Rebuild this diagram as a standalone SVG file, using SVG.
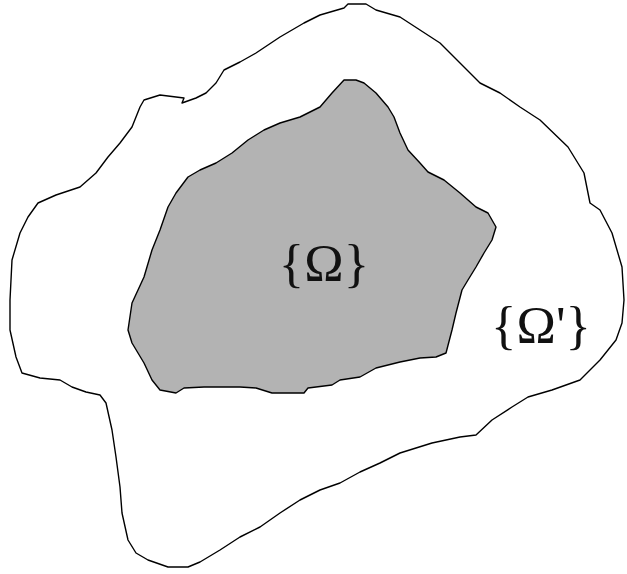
<svg xmlns="http://www.w3.org/2000/svg" width="627" height="574" viewBox="0 0 627 574">
<style>
.outline{stroke:#000;stroke-width:1.4;stroke-linejoin:round}
.lbl{font-family:"Liberation Serif","Times New Roman",serif;font-size:53px;fill:#111;text-anchor:middle}
</style>
<rect width="627" height="574" fill="#fff"/>
<g id="outer">
<path class="outline" fill="#fff" d="M348,4 L366,4 L376,10 L400,17 L420,30 L440,43 L460,63 L480,83 L500,93 L520,107 L540,120 L568,147 L584,173 L590,203 L600,210 L612,233 L622,267 L624,300 L622,323 L616,340 L600,360 L580,380 L552,390 L528,397 L512,407 L492,420 L476,435 L460,437 L432,443 L400,453 L380,463 L360,472 L340,483 L320,490 L300,500 L280,513 L260,527 L240,537 L220,550 L200,562 L188,567 L168,567 L148,560 L136,553 L128,540 L122,513 L120,487 L116,457 L112,430 L106,403 L100,395 L86,392 L72,387 L60,380 L40,378 L22,373 L16,357 L10,330 L10,300 L12,260 L20,233 L28,217 L38,203 L56,195 L80,187 L96,173 L108,157 L120,143 L132,127 L140,107 L144,100 L160,95 L176,97 L184,98 L182,103 L196,98 L206,93 L216,83 L224,70 L240,62 L256,53 L280,37 L304,23 L320,15 L344,8 Z"/>
<text class="lbl" x="541" y="343">{Ω'}</text>
</g>
<g id="inner">
<path class="outline" fill="#b3b3b3" d="M344,80 L356,80 L364,83 L376,93 L388,107 L394,117 L400,133 L408,150 L420,163 L428,172 L444,180 L460,193 L476,207 L488,213 L496,227 L492,240 L484,253 L476,267 L468,280 L462,290 L456,313 L452,330 L446,353 L436,357 L420,358 L400,362 L376,368 L360,377 L340,380 L332,385 L308,388 L304,393 L272,393 L256,388 L240,387 L204,387 L184,388 L176,393 L160,390 L152,380 L144,363 L132,343 L128,330 L132,303 L138,290 L144,277 L152,250 L160,230 L168,207 L176,193 L188,177 L200,170 L216,163 L232,153 L248,140 L264,130 L280,123 L300,117 L320,107 L332,93 Z"/>
<text class="lbl" x="324" y="281">{Ω}</text>
</g>
<g id="connectors"/>
</svg>
